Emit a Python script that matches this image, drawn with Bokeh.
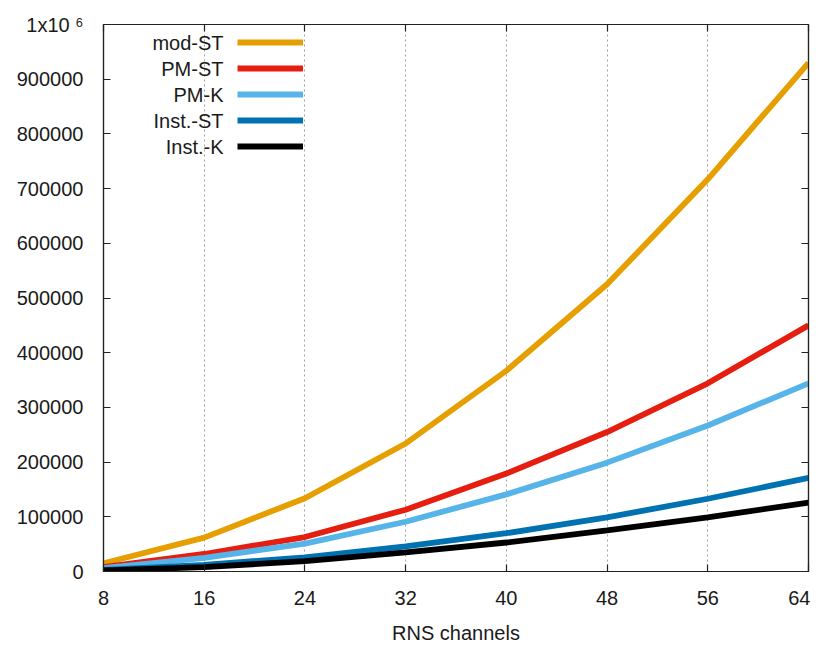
from bokeh.plotting import figure
from bokeh.models import Range1d, FixedTicker, LinearAxis, Legend, LegendItem, Label, BasicTickFormatter
from bokeh.embed import file_html
from bokeh.resources import INLINE

# ---- data ----
x_channels = [8, 16, 24, 32, 40, 48, 56, 64]
mod_st = [15000, 62000, 134000, 234000, 367000, 525000, 717000, 930000]
pm_st = [8000, 32000, 63000, 113000, 179000, 255000, 344000, 450000]
pm_k = [6000, 25000, 51000, 91000, 141000, 199000, 267000, 344000]
inst_st = [3000, 12000, 26000, 46000, 70000, 99000, 133000, 171000]
inst_k = [2000, 8000, 19000, 35000, 53000, 75000, 99000, 126000]

series = [mod_st, pm_st, pm_k, inst_st, inst_k]
names = ["mod-ST", "PM-ST", "PM-K", "Inst.-ST", "Inst.-K"]
colors = ["#e69f00", "#e51e10", "#56b4e9", "#0072b2", "#000000"]

x_ticks = [8, 16, 24, 32, 40, 48, 56, 64]
y_ticks = [0, 100000, 200000, 300000, 400000, 500000, 600000, 700000, 800000, 900000, 1000000]
y_top_label = "1x10 \u2076"
x_label = "RNS channels"

FONT = "Liberation Sans"
FS = "20px"

p = figure(width=810, height=646, output_backend="svg", toolbar_location=None,
           x_range=Range1d(8, 64), y_range=Range1d(0, 1000000),
           min_border_left=103, min_border_right=2, min_border_top=24, min_border_bottom=0)
p.background_fill_color = "white"
p.border_fill_color = "white"
p.outline_line_color = "#222222"
p.outline_line_width = 1.2

renderers = []
for ys, c in zip(series, colors):
    r = p.line(x_channels, ys, line_color=c, line_width=5.8)
    renderers.append(r)

# axes
p.xaxis.ticker = FixedTicker(ticks=x_ticks)
p.yaxis.ticker = FixedTicker(ticks=y_ticks)
p.yaxis.formatter = BasicTickFormatter(use_scientific=False)
p.yaxis.major_label_overrides = {1000000: y_top_label}
p.xaxis.axis_label = x_label
for ax in p.xaxis + p.yaxis:
    ax.major_tick_in = 7
    ax.major_tick_out = 0
    ax.minor_tick_line_color = None
    ax.major_tick_line_color = "#222222"
    ax.major_tick_line_width = 1.2
    ax.axis_line_color = "#222222"
    ax.axis_line_width = 1.2
    ax.major_label_text_font = FONT
    ax.major_label_text_font_size = FS
    ax.major_label_text_color = "#1a1a1a"
    ax.axis_label_text_font = FONT
    ax.axis_label_text_font_size = FS
    ax.axis_label_text_font_style = "normal"
    ax.axis_label_text_color = "#1a1a1a"
p.yaxis.major_label_standoff = 20
p.xaxis.major_label_standoff = 19
p.xaxis.axis_label_standoff = 14

for side, tk in (("right", y_ticks), ("above", x_ticks)):
    ax = LinearAxis(ticker=FixedTicker(ticks=tk), major_tick_in=7, major_tick_out=0,
                    minor_tick_line_color=None, major_label_text_font_size="0px",
                    major_label_standoff=0,
                    major_tick_line_color="#222222", major_tick_line_width=1.2,
                    axis_line_color="#222222", axis_line_width=1.2)
    ax.major_label_text_alpha = 0
    p.add_layout(ax, side)

# grid
p.ygrid.grid_line_color = None
p.xgrid.ticker = FixedTicker(ticks=x_ticks)
p.xgrid.grid_line_color = "#a0a0a0"
p.xgrid.grid_line_dash = "2 3"
p.xgrid.grid_line_width = 1

# legend: glyphs via Legend, names as right-aligned labels
items = [LegendItem(label=" ", renderers=[r]) for r in renderers]
leg = Legend(items=items, location=(134, 412), glyph_width=66, glyph_height=26,
             label_width=0, label_standoff=0, label_height=20, spacing=0, padding=0, margin=0,
             border_line_color=None, background_fill_alpha=0, label_text_font_size="1px")
p.add_layout(leg, "center")

for i, nm in enumerate(names):
    p.add_layout(Label(x=8, y=1000000, x_offset=120, y_offset=-(18 + 26 * i), text=nm,
                       text_align="right", text_baseline="middle", text_font=FONT,
                       text_font_size=FS, text_color="#1a1a1a"))

open("out.html", "w").write(file_html(p, INLINE))
